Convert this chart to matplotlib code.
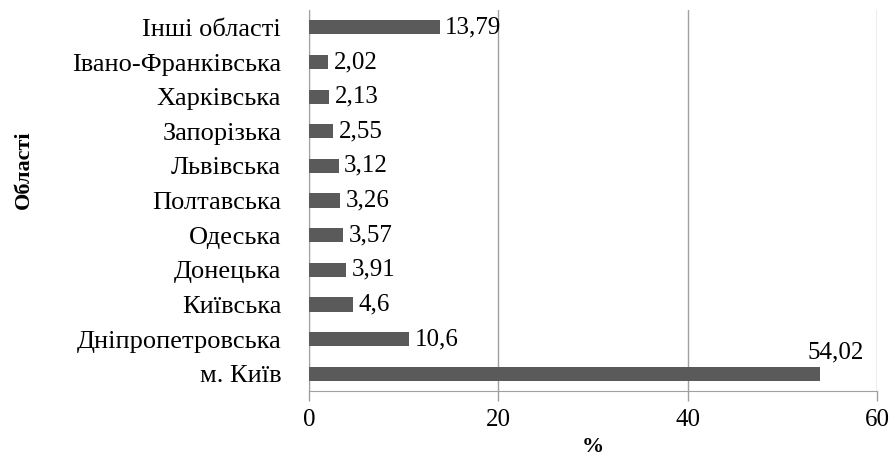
import matplotlib
matplotlib.use("Agg")
import matplotlib.pyplot as plt

categories = ["м. Київ", "Дніпропетровська", "Київська", "Донецька", "Одеська",
              "Полтавська", "Львівська", "Запорізька", "Харківська",
              "Івано-Франківська", "Інші області"]
values = [54.02, 10.6, 4.6, 3.91, 3.57, 3.26, 3.12, 2.55, 2.13, 2.02, 13.79]
value_labels = ["54,02", "10,6", "4,6", "3,91", "3,57", "3,26", "3,12", "2,55",
                "2,13", "2,02", "13,79"]
xticks = [0, 20, 40, 60]

plt.rcParams['font.family'] = ['Liberation Serif', 'DejaVu Serif']

fig = plt.figure(figsize=(8.92, 4.57), dpi=100)
ax = fig.add_axes([0.3464, 0.1444, 0.6368, 0.8336])

y = list(range(len(categories)))
ax.barh(y, values, height=0.41, color="#5a5a5a", zorder=3)

ax.set_xlim(0, 60)
ax.set_ylim(-0.5, len(categories) - 0.5)
ax.set_xticks(xticks)
ax.set_xticklabels([str(t) for t in xticks], fontsize=18)
ax.set_yticks(y)
ax.set_yticklabels(categories, fontsize=19)
ax.tick_params(axis='y', length=0, pad=20)
ax.tick_params(axis='x', length=7, color="#a0a0a0", width=1, pad=6)

ax.grid(axis='x', color="#a0a0a0", linewidth=1, zorder=0)
for s in ["top", "right"]:
    ax.spines[s].set_visible(False)
ax.spines["left"].set_color("#a0a0a0")
ax.spines["bottom"].set_color("#a0a0a0")

for i, (v, lab) in enumerate(zip(values, value_labels)):
    if v > 40:
        ax.annotate(lab, (v, i), xytext=(11, 15), textcoords="offset points",
                    ha="center", va="center", fontsize=18)
    else:
        ax.annotate(lab, (v, i), xytext=(4, 0), textcoords="offset points",
                    ha="left", va="center", fontsize=18)

ax.set_xlabel("%", fontsize=16, fontweight="bold")
ax.xaxis.set_label_coords(0.5, -0.122)
ax.set_ylabel("Області", fontsize=16, fontweight="bold")
ax.yaxis.set_label_coords(-0.484, 0.58)

fig.savefig("out.png", dpi=100)
